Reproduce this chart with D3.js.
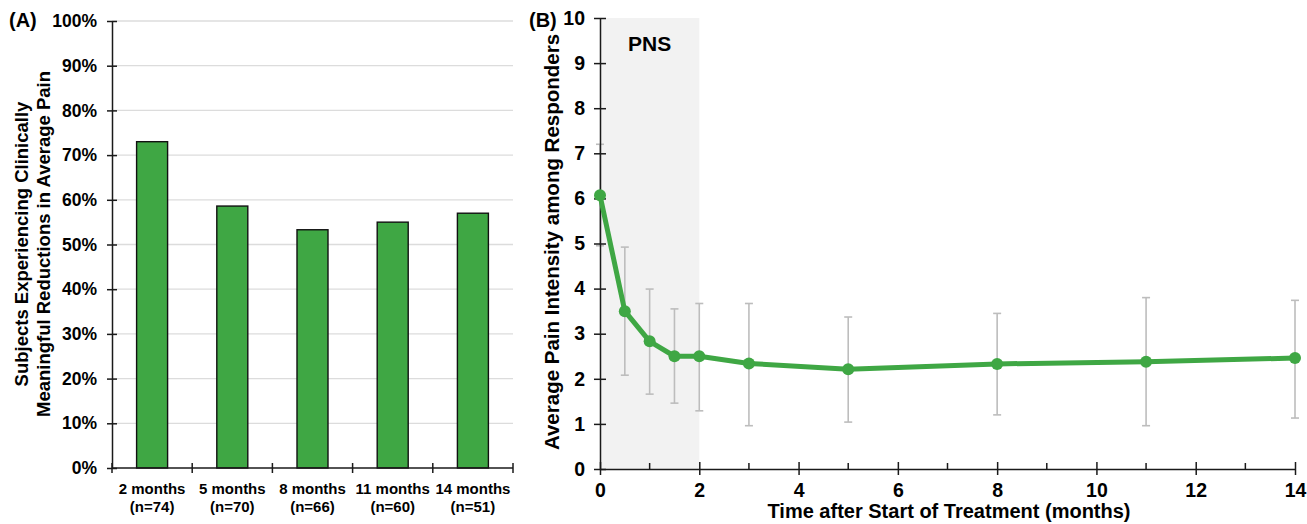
<!DOCTYPE html>
<html lang="en">
<head>
<meta charset="utf-8">
<title>PNS outcomes</title>
<script src="https://d3js.org/d3.v7.min.js"></script>
<style>
  body { margin: 0; background: #fff; }
  text { font-family: Arial, "Liberation Sans", sans-serif; font-weight: bold; fill: #000; }
</style>
</head>
<body>
<svg width="1307" height="524"></svg>
<script>
// panel A data
const barCats = ["2 months", "5 months", "8 months", "11 months", "14 months"];
const barN = ["(n=74)", "(n=70)", "(n=66)", "(n=60)", "(n=51)"];
const barPct = [73, 58.6, 53.3, 55, 57];
const pctTicks = [0, 10, 20, 30, 40, 50, 60, 70, 80, 90, 100];

// panel B data
const months = [0, 0.5, 1, 1.5, 2, 3, 5, 8, 11, 14];
const painMean = [6.07, 3.5, 2.83, 2.5, 2.5, 2.34, 2.21, 2.33, 2.38, 2.46];
const painLow = [4.95, 2.08, 1.66, 1.46, 1.29, 0.96, 1.04, 1.2, 0.96, 1.13];
const painHigh = [7.2, 4.92, 3.99, 3.55, 3.67, 3.67, 3.37, 3.45, 3.8, 3.74];
const painTicks = [0, 1, 2, 3, 4, 5, 6, 7, 8, 9, 10];
const monthTicks = [0, 2, 4, 6, 8, 10, 12, 14];
const monthMinor = [1, 3, 5, 7, 9, 11, 13];

const svg = d3.select("svg");
const green = "#3fa744";

// ---------- Panel A ----------
const xa = d3.scaleBand().domain(barCats).range([112, 513]);
const ya = d3.scaleLinear().domain([0, 100]).range([468, 21]);

const gA = svg.append("g");

gA.selectAll(".grid").data(pctTicks.slice(1))
  .join("line")
  .attr("x1", 112).attr("x2", 513)
  .attr("y1", d => ya(d)).attr("y2", d => ya(d))
  .attr("stroke", "#dcdcdc").attr("stroke-width", 1.3);

const barW = 31;
gA.selectAll(".bar").data(barPct)
  .join("rect")
  .attr("x", (d, i) => xa(barCats[i]) + xa.bandwidth() / 2 - barW / 2)
  .attr("y", d => ya(d))
  .attr("width", barW)
  .attr("height", d => ya(0) - ya(d))
  .attr("fill", green)
  .attr("stroke", "#111").attr("stroke-width", 1.4);

// y axis A
const yAxisA = d3.axisLeft(ya).tickValues(pctTicks).tickFormat(d => d + "%").tickSize(0);
const ga = gA.append("g").attr("transform", "translate(112,0)").call(yAxisA);
ga.select(".domain").attr("stroke", "#1a1a1a").attr("stroke-width", 1.5);
ga.selectAll(".tick text").attr("x", -15).style("font-size", "17.5px");
ga.selectAll(".tick").append("line").attr("x1", -5).attr("x2", 5).attr("stroke", "#1a1a1a").attr("stroke-width", 1.5);

// x axis A
gA.append("line").attr("x1", 112).attr("x2", 513).attr("y1", ya(0)).attr("y2", ya(0))
  .attr("stroke", "#1a1a1a").attr("stroke-width", 1.5);
const bounds = barCats.map(c => xa(c)).concat([xa.range()[1]]);
gA.selectAll(".xtick").data(bounds)
  .join("line")
  .attr("x1", d => d).attr("x2", d => d)
  .attr("y1", ya(0) - 5).attr("y2", ya(0) + 5)
  .attr("stroke", "#1a1a1a").attr("stroke-width", 1.5);
gA.selectAll(".xl1").data(barCats)
  .join("text")
  .attr("x", d => xa(d) + xa.bandwidth() / 2).attr("y", 494)
  .attr("text-anchor", "middle").style("font-size", "15px")
  .text(d => d);
gA.selectAll(".xl2").data(barN)
  .join("text")
  .attr("x", (d, i) => xa(barCats[i]) + xa.bandwidth() / 2).attr("y", 512)
  .attr("text-anchor", "middle").style("font-size", "15px")
  .text(d => d);

const titA = gA.append("text").attr("transform", "translate(28,244) rotate(-90)")
  .attr("text-anchor", "middle").style("font-size", "18.5px");
titA.append("tspan").attr("x", 0).attr("dy", 0).text("Subjects Experiencing Clinically");
titA.append("tspan").attr("x", 0).attr("dy", 22).text("Meaningful Reductions in Average Pain");

gA.append("text").attr("x", 9).attr("y", 27).style("font-size", "20px").text("(A)");

// ---------- Panel B ----------
const xb = d3.scaleLinear().domain([0, 14]).range([600, 1295]);
const yb = d3.scaleLinear().domain([0, 10]).range([469, 18]);
const gB = svg.append("g");

gB.append("rect")
  .attr("x", xb(0)).attr("y", yb(10))
  .attr("width", xb(2) - xb(0)).attr("height", yb(0) - yb(10))
  .attr("fill", "#f2f2f2");
gB.append("text").attr("x", xb(1)).attr("y", 51).attr("text-anchor", "middle")
  .style("font-size", "21px").text("PNS");

// error bars
const eb = gB.selectAll(".err").data(months).join("g").attr("stroke", "#bdbdbd").attr("stroke-width", 1.6);
eb.append("line").attr("x1", d => xb(d)).attr("x2", d => xb(d))
  .attr("y1", (d, i) => yb(painLow[i])).attr("y2", (d, i) => yb(painHigh[i]));
eb.append("line").attr("x1", d => xb(d) - 4).attr("x2", d => xb(d) + 4)
  .attr("y1", (d, i) => yb(painLow[i])).attr("y2", (d, i) => yb(painLow[i]));
eb.append("line").attr("x1", d => xb(d) - 4).attr("x2", d => xb(d) + 4)
  .attr("y1", (d, i) => yb(painHigh[i])).attr("y2", (d, i) => yb(painHigh[i]));

// y axis B
const yAxisB = d3.axisLeft(yb).tickValues(painTicks).tickSize(0);
const gby = gB.append("g").attr("transform", "translate(600,0)").call(yAxisB);
gby.select(".domain").attr("stroke", "#1a1a1a").attr("stroke-width", 1.5);
gby.selectAll(".tick text").attr("x", -15).style("font-size", "19.5px");
gby.selectAll(".tick").append("line").attr("x1", -6).attr("x2", 6).attr("stroke", "#1a1a1a").attr("stroke-width", 1.5);

// x axis B
const xAxisB = d3.axisBottom(xb).tickValues(monthTicks).tickSize(0);
const gbx = gB.append("g").attr("transform", `translate(0,${yb(0)})`).call(xAxisB);
gbx.select(".domain").attr("stroke", "#1a1a1a").attr("stroke-width", 1.5);
gbx.selectAll(".tick text").attr("y", 14).style("font-size", "19.5px");
gbx.selectAll(".tick").append("line").attr("y1", -7).attr("y2", 6).attr("stroke", "#1a1a1a").attr("stroke-width", 1.5);
gB.selectAll(".minor").data(monthMinor).join("line")
  .attr("x1", d => xb(d)).attr("x2", d => xb(d))
  .attr("y1", yb(0) - 6).attr("y2", yb(0))
  .attr("stroke", "#1a1a1a").attr("stroke-width", 1.5);

// line + points
const line = d3.line().x((d, i) => xb(d)).y((d, i) => yb(painMean[i]));
gB.append("path").datum(months).attr("d", line)
  .attr("fill", "none").attr("stroke", green).attr("stroke-width", 5).attr("stroke-linejoin", "round");
gB.selectAll(".pt").data(months).join("circle")
  .attr("cx", d => xb(d)).attr("cy", (d, i) => yb(painMean[i])).attr("r", 6)
  .attr("fill", green);

gB.append("text").attr("transform", "translate(559,242) rotate(-90)")
  .attr("text-anchor", "middle").style("font-size", "20.5px")
  .text("Average Pain Intensity among Responders");
gB.append("text").attr("x", 949).attr("y", 518).attr("text-anchor", "middle")
  .style("font-size", "20px").text("Time after Start of Treatment (months)");
gB.append("text").attr("x", 529).attr("y", 27).style("font-size", "20px").text("(B)");
</script>
</body>
</html>
